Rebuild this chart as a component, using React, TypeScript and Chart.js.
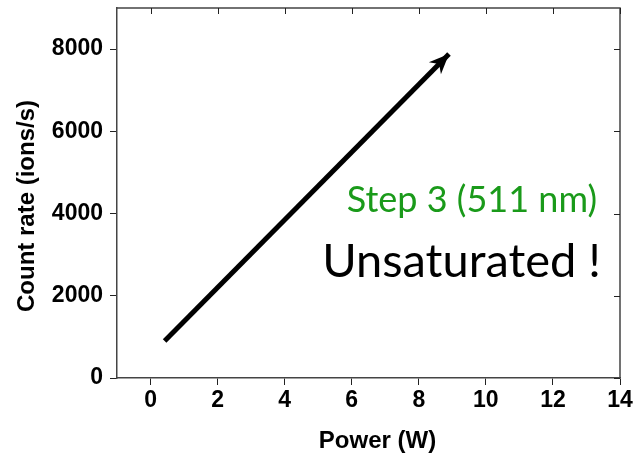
import React, { useEffect, useRef } from "react";
import { Chart, registerables } from "chart.js";

Chart.register(...registerables);

const xTicks = [0, 2, 4, 6, 8, 10, 12, 14];
const yTicks = [0, 2000, 4000, 6000, 8000];
const xRange = [-1, 14];
const yRange = [0, 9000];
const arrowPower = [0.42, 8.9];
const arrowRate = [900, 7880];
const xTitle = "Power (W)";
const yTitle = "Count rate (ions/s)";
const note1 = "Step 3 (511 nm)";
const note2 = "Unsaturated !";

const framePlugin = {
  id: "frame",
  afterDraw(chart: any) {
    const { ctx, chartArea: a, scales } = chart;
    const xs = scales.x;
    const ys = scales.y;
    ctx.save();
    // top & right borders with inward ticks
    ctx.strokeStyle = "#444";
    ctx.lineWidth = 1.5;
    ctx.beginPath();
    ctx.moveTo(a.left, a.top);
    ctx.lineTo(a.right, a.top);
    ctx.lineTo(a.right, a.bottom);
    ctx.stroke();
    ctx.lineWidth = 1;
    ctx.strokeStyle = "#222";
    ctx.beginPath();
    xTicks.forEach((v) => {
      const px = Math.round(xs.getPixelForValue(v)) + 0.5;
      ctx.moveTo(px, a.top);
      ctx.lineTo(px, a.top + 6);
    });
    yTicks.forEach((v) => {
      const py = Math.round(ys.getPixelForValue(v)) + 0.5;
      ctx.moveTo(a.right, py);
      ctx.lineTo(a.right - 6, py);
    });
    ctx.stroke();

    // arrow head
    const x0 = xs.getPixelForValue(arrowPower[0]);
    const y0 = ys.getPixelForValue(arrowRate[0]);
    const x1 = xs.getPixelForValue(arrowPower[1]);
    const y1 = ys.getPixelForValue(arrowRate[1]);
    const ang = Math.atan2(y1 - y0, x1 - x0);
    const L = 20;
    const W = 8.5;
    const notch = 14;
    const ux = Math.cos(ang), uy = Math.sin(ang);
    const nx = -uy, ny = ux;
    ctx.fillStyle = "#000";
    ctx.beginPath();
    ctx.moveTo(x1, y1);
    ctx.lineTo(x1 - ux * L + nx * W, y1 - uy * L + ny * W);
    ctx.lineTo(x1 - ux * notch, y1 - uy * notch);
    ctx.lineTo(x1 - ux * L - nx * W, y1 - uy * L - ny * W);
    ctx.closePath();
    ctx.fill();

    // axis titles
    ctx.fillStyle = "#000";
    ctx.font = "bold 24px 'Liberation Sans', Arial, sans-serif";
    ctx.textAlign = "center";
    ctx.textBaseline = "alphabetic";
    ctx.fillText(xTitle, (a.left + a.right) / 2 + 9, 448);
    ctx.save();
    ctx.translate(34, (a.top + a.bottom) / 2 + 13);
    ctx.rotate(-Math.PI / 2);
    ctx.fillText(yTitle, 0, 0);
    ctx.restore();

    // annotations
    ctx.textAlign = "right";
    ctx.fillStyle = "#1a9a1a";
    ctx.font = "36px Lato, 'Open Sans', sans-serif";
    ctx.fillText(note1, 597, 212);
    ctx.fillStyle = "#000";
    ctx.font = "47px Lato, 'Open Sans', sans-serif";
    ctx.fillText(note2, 601, 277);
    ctx.restore();
  },
};

export default function App() {
  const ref = useRef<HTMLCanvasElement>(null);
  useEffect(() => {
    document.body.style.margin = "0";
    const chart = new Chart(ref.current!, {
      type: "line",
      data: {
        datasets: [
          {
            data: arrowPower.map((p, i) => ({ x: p, y: arrowRate[i] })),
            borderColor: "#000",
            borderWidth: 5,
            borderCapStyle: "butt",
            pointRadius: 0,
            fill: false,
          },
        ],
      },
      options: {
        animation: false,
        responsive: true,
        maintainAspectRatio: false,
        layout: { padding: { top: 8, right: 13, left: 0, bottom: 0 } },
        plugins: { legend: { display: false }, tooltip: { enabled: false } },
        scales: {
          x: {
            type: "linear",
            min: xRange[0],
            max: xRange[1],
            afterBuildTicks: (s: any) => {
              s.ticks = xTicks.map((v) => ({ value: v }));
            },
            afterFit: (s: any) => {
              s.height = 79;
              s.paddingLeft = 0;
              s.paddingRight = 0;
            },
            grid: { drawOnChartArea: false, drawTicks: true, tickLength: 7, color: "#222" },
            border: { display: true, color: "#444", width: 1.5 },
            ticks: {
              padding: 2,
              color: "#000",
              font: { family: "'Liberation Sans', Arial, sans-serif", size: 23, weight: "bold" },
              callback: (v: any) => String(v),
            },
          },
          y: {
            type: "linear",
            min: yRange[0],
            max: yRange[1],
            afterBuildTicks: (s: any) => {
              s.ticks = yTicks.map((v) => ({ value: v }));
            },
            afterFit: (s: any) => {
              s.width = 117;
              s.paddingTop = 0;
              s.paddingBottom = 0;
            },
            grid: { drawOnChartArea: false, drawTicks: true, tickLength: 7, color: "#222" },
            border: { display: true, color: "#444", width: 1.5 },
            ticks: {
              padding: 7,
              color: "#000",
              font: { family: "'Liberation Sans', Arial, sans-serif", size: 23, weight: "bold" },
              callback: (v: any) => String(v),
            },
          },
        },
      } as any,
      plugins: [framePlugin],
    });
    return () => chart.destroy();
  }, []);
  return (
    <div style={{ position: "absolute", left: 0, top: 0, width: 633, height: 457 }}>
      <canvas ref={ref} />
    </div>
  );
}
